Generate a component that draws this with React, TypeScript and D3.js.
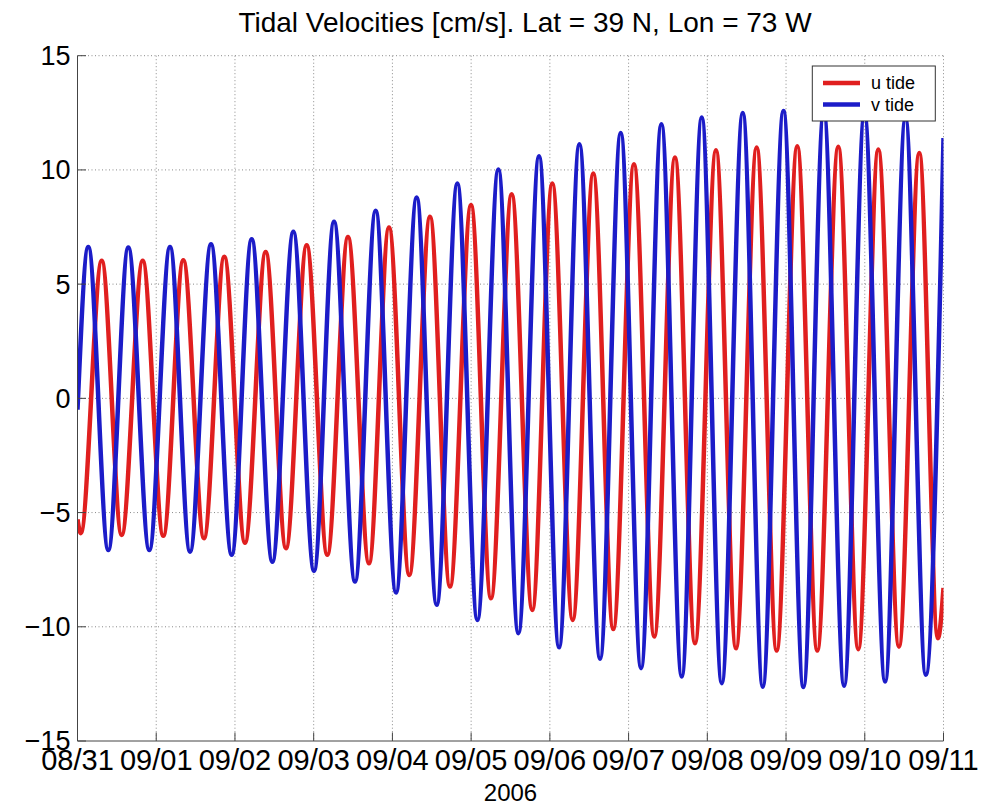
import React from "react";
import * as d3 from "d3";

// ---- data ----
// x-axis tick labels (one per day, starting 08/31 00:00)
const tickLabels = ["08/31", "09/01", "09/02", "09/03", "09/04", "09/05", "09/06", "09/07", "09/08", "09/09", "09/10", "09/11"];
const yTicks = [-15, -10, -5, 0, 5, 10, 15];

// v tide: hours since 08/31 00:00 and velocity (cm/s) at successive extremes
const vHours = [0, 3.29, 9.39, 15.49, 21.89, 28.2, 34.3, 40.7, 47.0, 53.1, 59.4, 65.8, 72.1, 78.2, 84.6, 90.9, 97.1, 103.4, 109.5, 115.8, 121.9, 128.3, 134.4, 140.7, 146.8, 153.0, 159.3, 165.6, 171.8, 178.0, 184.2, 190.3, 196.4, 202.8, 208.9, 215.2, 221.3, 227.5, 233.7, 239.9, 246.2, 252.4, 258.6, 264];
const vValues = [-0.5, 6.63, -6.64, 6.6, -6.64, 6.63, -6.71, 6.75, -6.85, 6.97, -7.15, 7.29, -7.55, 7.73, -8.02, 8.21, -8.5, 8.79, -9.04, 9.4, -9.7, 10.02, -10.28, 10.6, -10.9, 11.12, -11.4, 11.62, -11.81, 12.0, -12.18, 12.29, -12.47, 12.49, -12.62, 12.58, -12.64, 12.55, -12.58, 12.45, -12.4, 12.25, -12.1, 11.4];

// u tide
const uHours = [0, 0.98, 7.38, 13.47, 19.88, 26.16, 32.25, 38.56, 44.75, 51.06, 57.37, 63.56, 69.87, 76.15, 82.46, 88.86, 94.96, 101.15, 107.46, 113.55, 119.96, 126.05, 132.36, 138.64, 144.74, 150.96, 157.24, 163.33, 169.64, 175.83, 182.14, 188.24, 194.64, 200.74, 207.05, 213.14, 219.42, 225.52, 231.92, 238.02, 244.12, 250.43, 256.62, 262.3, 264];
const uValues = [-5.3, -5.9, 6.02, -5.98, 6.02, -6.02, 6.05, -6.12, 6.2, -6.32, 6.41, -6.56, 6.7, -6.85, 7.06, -7.22, 7.48, -7.73, 7.95, -8.24, 8.46, -8.75, 8.94, -9.26, 9.4, -9.7, 9.84, -10.1, 10.25, -10.43, 10.54, -10.72, 10.86, -10.94, 10.98, -11.04, 11.04, -11.04, 11.01, -10.98, 10.89, -10.87, 10.74, -10.5, -8.3];

const seriesNames = ["u tide", "v tide"];
const seriesColors = ["#e01f1f", "#1c1cc8"];

export default function App() {
  const W = 983, H = 805;
  const left = 77.5, right = 943.5, top = 55.7, bottom = 741;
  const totalHours = (tickLabels.length - 1) * 24;

  const x = d3.scaleLinear().domain([0, totalHours]).range([left, right]);
  const y = d3.scaleLinear().domain([-15, 15]).range([bottom, top]);

  const line = d3
    .line<[number, number]>()
    .x((d) => x(d[0]))
    .y((d) => y(d[1]))
    .curve(d3.curveMonotoneX);

  const uPath = line(uHours.map((h, i) => [h, uValues[i]] as [number, number])) || "";
  const vPath = line(vHours.map((h, i) => [h, vValues[i]] as [number, number])) || "";

  const xTickPos = tickLabels.map((_, i) => i * 24);
  const font = "Liberation Sans, Arial, Helvetica, sans-serif";
  const gridStyle = { stroke: "#8a8a8a", strokeWidth: 1, strokeDasharray: "1 2.5" };
  const tickLen = 8.5;

  return (
    <svg width={W} height={H} style={{ position: "absolute", left: 0, top: 0, background: "#fff" }}>
      <rect x={0} y={0} width={W} height={H} fill="#fff" />
      <defs>
        <clipPath id="plotClip">
          <rect x={left} y={top - 3} width={right - left} height={bottom - top + 6} />
        </clipPath>
      </defs>

      {/* grid */}
      {yTicks.filter((t) => t !== -15).map((t) => (
        <line key={"gy" + t} x1={left} x2={right} y1={y(t)} y2={y(t)} {...gridStyle} />
      ))}
      {xTickPos.slice(1).map((h) => (
        <line key={"gx" + h} x1={x(h)} x2={x(h)} y1={top} y2={bottom} {...gridStyle} />
      ))}

      {/* series */}
      <g clipPath="url(#plotClip)">
        <path d={uPath} fill="none" stroke={seriesColors[0]} strokeWidth={4.5} strokeLinejoin="round" />
        <path d={vPath} fill="none" stroke={seriesColors[1]} strokeWidth={4.5} strokeLinejoin="round" />
      </g>

      {/* axes */}
      <line x1={left} x2={left} y1={top} y2={bottom} stroke="#444" strokeWidth={1} />
      <line x1={left} x2={right} y1={bottom} y2={bottom} stroke="#444" strokeWidth={1} />
      {yTicks.map((t) => (
        <g key={"ty" + t}>
          <line x1={left} x2={left + tickLen} y1={y(t)} y2={y(t)} stroke="#444" />
          <text x={70.5} y={y(t)} dy="0.35em" textAnchor="end" fontFamily={font} fontSize={27} fill="#000">
            {t < 0 ? "\u2212" + Math.abs(t) : String(t)}
          </text>
        </g>
      ))}
      {xTickPos.map((h, i) => (
        <g key={"tx" + h}>
          <line x1={x(h)} x2={x(h)} y1={bottom} y2={bottom - tickLen} stroke="#444" />
          <text x={x(h)} y={770} textAnchor="middle" fontFamily={font} fontSize={29} fill="#000">
            {tickLabels[i]}
          </text>
        </g>
      ))}
      <text x={(left + right) / 2} y={801} textAnchor="middle" fontFamily={font} fontSize={24} fill="#000">
        2006
      </text>

      {/* title */}
      <text x={525} y={32} textAnchor="middle" fontFamily={font} fontSize={28} fill="#000">
        Tidal Velocities [cm/s]. Lat = 39 N, Lon = 73 W
      </text>

      {/* legend */}
      <g>
        <rect x={812.3} y={66} width={123} height={55} fill="#fff" stroke="#333" strokeWidth={1} />
        {seriesNames.map((name, i) => (
          <g key={name}>
            <line x1={823} x2={860} y1={83 + i * 21.5} y2={83 + i * 21.5} stroke={seriesColors[i]} strokeWidth={4.5} />
            <text x={871} y={83 + i * 21.5} dy="0.35em" fontFamily={font} fontSize={18} fill="#000">
              {name}
            </text>
          </g>
        ))}
      </g>
    </svg>
  );
}
